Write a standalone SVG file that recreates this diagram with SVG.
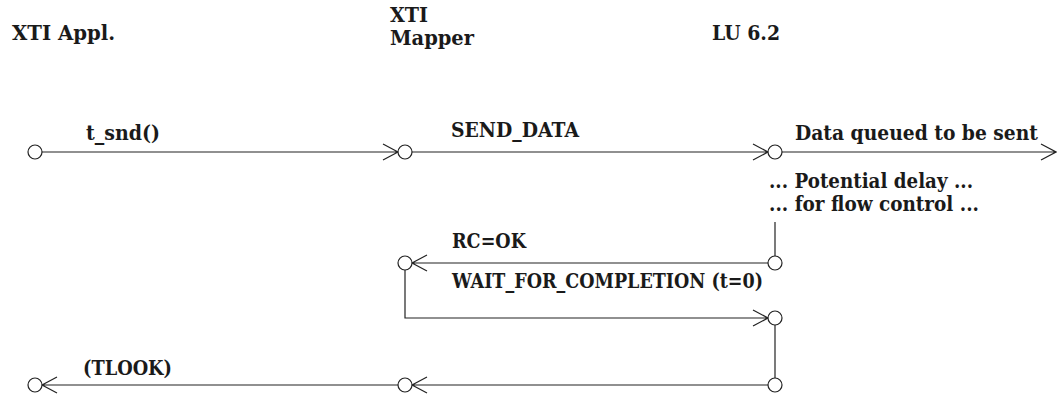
<svg xmlns="http://www.w3.org/2000/svg" width="1057" height="395" viewBox="0 0 1057 395">
<style>
text{font-family:"DejaVu Serif","Liberation Serif",serif;font-weight:bold;font-size:20px;fill:#1a1a1a}
.tight{font-size:19.5px}
.ln{fill:none;stroke:#222;stroke-width:1.2}
.nd{fill:#fff;stroke:#222;stroke-width:1.2}
</style>
<rect width="1057" height="395" fill="#fff"/>
<g id="headers">
<text x="12" y="40" textLength="103" lengthAdjust="spacingAndGlyphs">XTI Appl.</text>
<text class="tight" x="390" y="22" textLength="38" lengthAdjust="spacingAndGlyphs">XTI</text>
<text class="tight" x="390" y="45" textLength="84" lengthAdjust="spacingAndGlyphs">Mapper</text>
<text x="712" y="40" textLength="68" lengthAdjust="spacingAndGlyphs">LU 6.2</text>
</g>
<g id="connectors">
<path class="ln" d="M42 152H398M383 144L398 152L383 160"/>
<path class="ln" d="M412 152H768M753 144L768 152L753 160"/>
<path class="ln" d="M782 152H1056M1041 144L1056 152L1041 160"/>
<path class="ln" d="M775 222V256"/>
<path class="ln" d="M768 263H412M427 255L412 263L427 271"/>
<path class="ln" d="M405 270V318H768M753 310L768 318L753 326"/>
<path class="ln" d="M775 325V378"/>
<path class="ln" d="M768 385H412M427 377L412 385L427 393"/>
<path class="ln" d="M398 385H42M57 377L42 385L57 393"/>
</g>
<g id="labels">
<text x="86" y="140" textLength="74" lengthAdjust="spacingAndGlyphs">t_snd()</text>
<text x="451" y="137" textLength="128" lengthAdjust="spacingAndGlyphs">SEND_DATA</text>
<text x="795" y="140" textLength="243" lengthAdjust="spacingAndGlyphs">Data queued to be sent</text>
<text class="tight" x="769" y="188" textLength="204" lengthAdjust="spacingAndGlyphs">... Potential delay ...</text>
<text class="tight" x="769" y="211" textLength="210" lengthAdjust="spacingAndGlyphs">... for flow control ...</text>
<text x="452" y="248" textLength="74" lengthAdjust="spacingAndGlyphs">RC=OK</text>
<text x="452" y="288" textLength="311" lengthAdjust="spacingAndGlyphs">WAIT_FOR_COMPLETION (t=0)</text>
<text x="83" y="375" textLength="89" lengthAdjust="spacingAndGlyphs">(TLOOK)</text>
</g>
<g id="n-appl-1"><circle class="nd" cx="35" cy="152" r="7"/></g>
<g id="n-map-1"><circle class="nd" cx="405" cy="152" r="7"/></g>
<g id="n-lu-1"><circle class="nd" cx="775" cy="152" r="7"/></g>
<g id="n-map-2"><circle class="nd" cx="405" cy="263" r="7"/></g>
<g id="n-lu-2"><circle class="nd" cx="775" cy="263" r="7"/></g>
<g id="n-lu-3"><circle class="nd" cx="775" cy="318" r="7"/></g>
<g id="n-appl-4"><circle class="nd" cx="35" cy="385" r="7"/></g>
<g id="n-map-4"><circle class="nd" cx="405" cy="385" r="7"/></g>
<g id="n-lu-4"><circle class="nd" cx="775" cy="385" r="7"/></g>
</svg>
